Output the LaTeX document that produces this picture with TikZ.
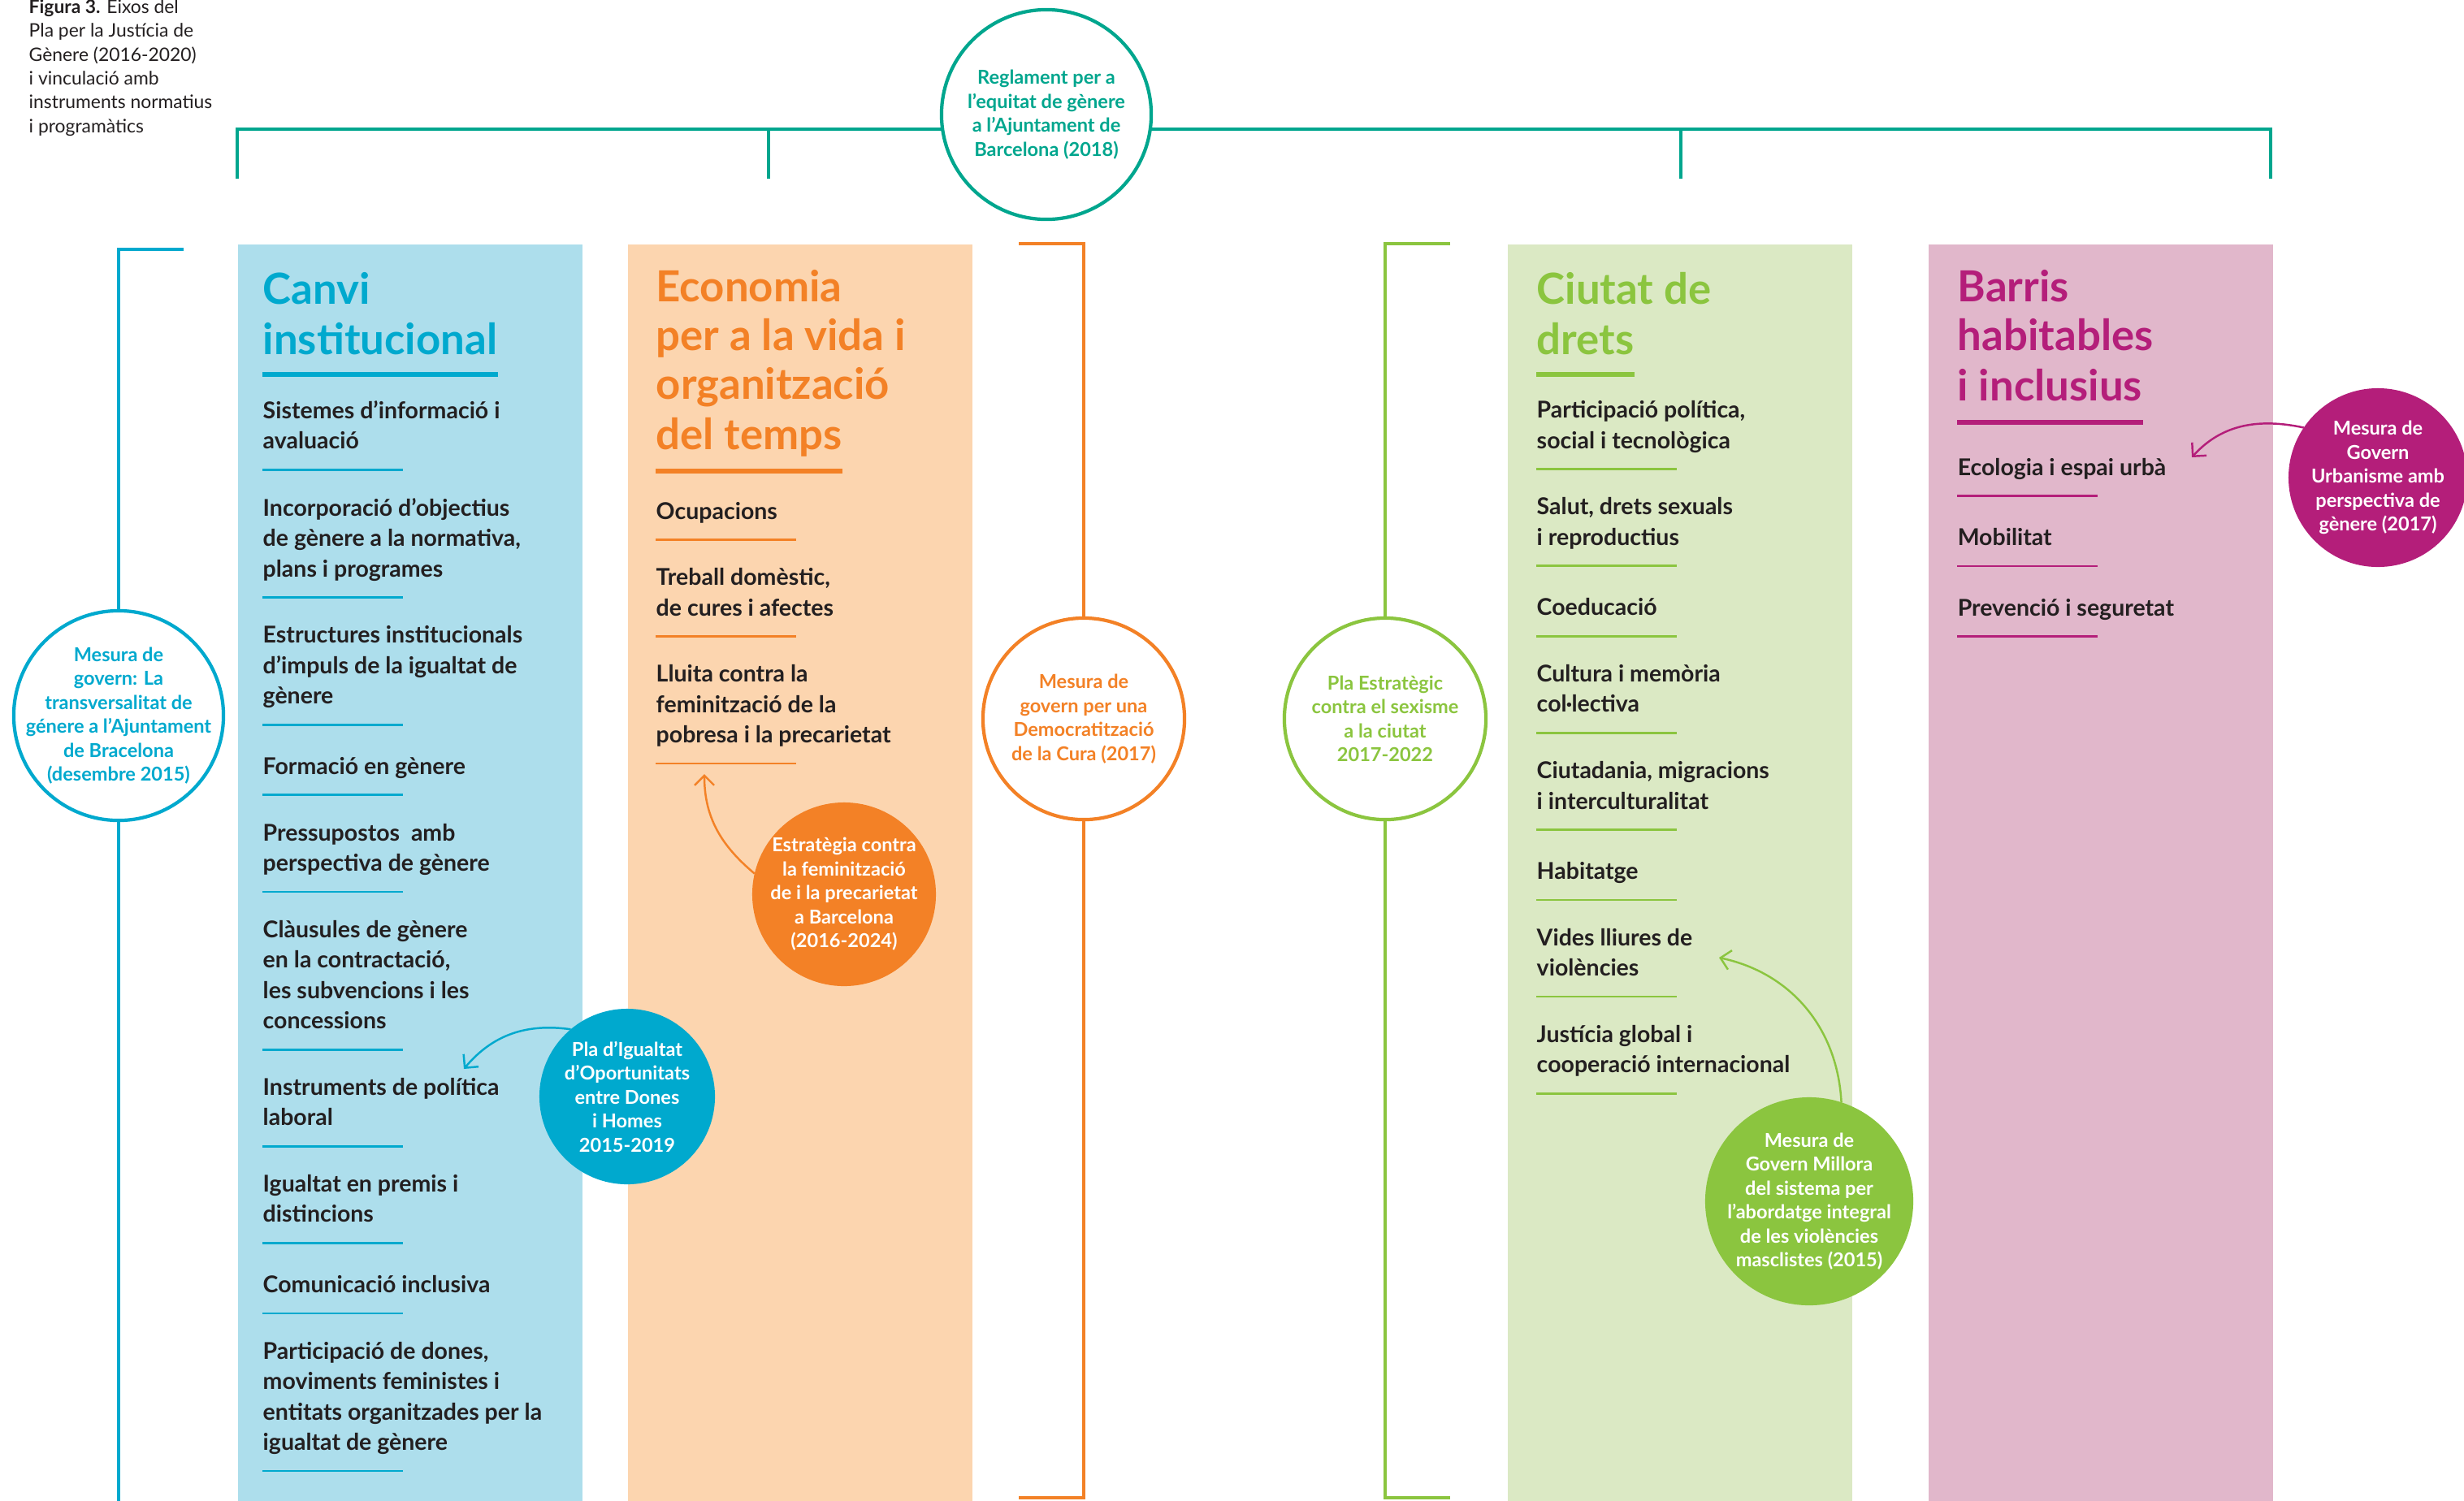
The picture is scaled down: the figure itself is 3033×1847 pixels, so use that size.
\documentclass[tikz,border=0pt]{standalone}
\usepackage{fontspec}
\setmainfont{Lato}
\usetikzlibrary{positioning,arrows.meta}

\definecolor{regc}{RGB}{0,166,142}
\definecolor{canc}{RGB}{0,169,206}
\definecolor{canl}{RGB}{173,222,236}
\definecolor{ecoc}{RGB}{243,129,38}
\definecolor{ecol}{RGB}{252,213,175}
\definecolor{dretc}{RGB}{139,197,63}
\definecolor{dretl}{RGB}{219,233,196}
\definecolor{barc}{RGB}{180,30,122}
\definecolor{barl}{RGB}{225,183,203}
\definecolor{ink}{RGB}{35,31,32}

\newcommand\capfont{\fontsize{6.5}{8.34}\selectfont}
\newcommand\headfont{\fontsize{15}{17.07}\selectfont\bfseries}
\newcommand\itemfont{\fontsize{8.1}{10.67}\selectfont\bfseries}
\newcommand\ringfont{\fontsize{6.7}{8.39}\selectfont\bfseries}

\tikzset{
  >={Straight Barb[length=1.2mm,width=2.4mm]},
  colbox/.style={anchor=north west, minimum width=4.24cm, minimum height=15.47cm, inner sep=0},
  head/.style={inner sep=0, align=left, font=\headfont, execute at begin node=\strut, execute at end node=\strut},
  item/.style={inner sep=0, align=left, font=\itemfont, text=ink, execute at begin node=\strut, execute at end node=\strut},
  caption/.style={anchor=north west, inner sep=0, align=left, font=\capfont, text=ink, execute at begin node=\strut, execute at end node=\strut},
  hbar/.style={line width=1.7pt},
  ibar/.style={line width=0.8pt},
  ring/.style={circle, draw, line width=1.2pt, fill=white, inner sep=-3mm, outer sep=0, align=center, font=\ringfont},
  disc/.style={circle, inner sep=-3mm, outer sep=0, align=center, font=\ringfont, text=white},
  bracket/.style={line width=0.9pt},
  pointer/.style={->, line width=0.7pt},
}

\begin{document}
\begin{tikzpicture}[x=0.01cm, y=-0.01cm]
  \useasboundingbox (0,0) rectangle (3033,1847);

  \node[caption] (fig) at (35,-1) {\textbf{Figura 3.} Eixos del\\Pla per la Justícia de\\Gènere (2016-2020)\\i vinculació amb\\instruments normatius\\i programàtics};

  \node[ring, draw=regc, text=regc, minimum size=2.58cm] (reg) at (1288,141) {Reglament per a\\l’equitat de gènere\\a l’Ajuntament de\\Barcelona (2018)};
  \coordinate (d1) at (292,220);
  \coordinate (d2) at (946,220);
  \coordinate (d3) at (2069,220);
  \coordinate (d4) at (2795,220);
  \draw[bracket, regc] (d1) |- (reg.188);
  \draw[bracket, regc] (reg.352) -| (d4);
  \draw[bracket, regc] (d2) -- (d2 |- reg.188);
  \draw[bracket, regc] (d3) -- (d3 |- reg.188);

  \node[colbox, fill=canl] (cb) at (292,300) {};
  \node[colbox, fill=ecol] (eb) at (772,300) {};
  \node[colbox, fill=dretl] (db) at (1855,300) {};
  \node[colbox, fill=barl] (bb) at (2373,300) {};

  \node[head, text=canc, below right=3.2mm and 3.1mm of cb.north west] (ch1) {Canvi};
  \node[head, text=canc, below right=0pt and 0pt of ch1.south west] (ch2) {institucional};
  \draw[hbar, canc] ([yshift=-0.6mm]ch2.south west) -- ([yshift=-0.6mm]ch2.south east);
  \node[item, below right=3.78mm and 0pt of ch2.south west] (ci1) {Sistemes d’informació i\\avaluació};
  \node[item, below right=4.77mm and 0pt of ci1.south west] (ci2) {Incorporació d’objectius\\de gènere a la normativa,\\plans i programes};
  \node[item, below right=4.77mm and 0pt of ci2.south west] (ci3) {Estructures institucionals\\d’impuls de la igualtat de\\gènere};
  \node[item, below right=4.77mm and 0pt of ci3.south west] (ci4) {Formació en gènere};
  \node[item, below right=4.77mm and 0pt of ci4.south west] (ci5) {Pressupostos\ \ amb\\perspectiva de gènere};
  \node[item, below right=4.77mm and 0pt of ci5.south west] (ci6) {Clàusules de gènere\\en la contractació,\\les subvencions i les\\concessions};
  \node[item, below right=4.77mm and 0pt of ci6.south west] (ci7) {Instruments de política\\laboral};
  \node[item, below right=4.77mm and 0pt of ci7.south west] (ci8) {Igualtat en premis i\\distincions};
  \node[item, below right=4.77mm and 0pt of ci8.south west] (ci9) {Comunicació inclusiva};
  \node[item, below right=4.77mm and 0pt of ci9.south west] (ci10) {Participació de dones,\\moviments feministes i\\entitats organitzades per la\\igualtat de gènere};
  \draw[ibar, canc] ([yshift=-1.33mm]ci1.south west) -- ++(173,0);
  \draw[ibar, canc] ([yshift=-1.33mm]ci2.south west) -- ++(173,0);
  \draw[ibar, canc] ([yshift=-1.33mm]ci3.south west) -- ++(173,0);
  \draw[ibar, canc] ([yshift=-1.33mm]ci4.south west) -- ++(173,0);
  \draw[ibar, canc] ([yshift=-1.33mm]ci5.south west) -- ++(173,0);
  \draw[ibar, canc] ([yshift=-1.33mm]ci6.south west) -- ++(173,0);
  \draw[ibar, canc] ([yshift=-1.33mm]ci7.south west) -- ++(173,0);
  \draw[ibar, canc] ([yshift=-1.33mm]ci8.south west) -- ++(173,0);
  \draw[ibar, canc] ([yshift=-1.33mm]ci9.south west) -- ++(173,0);
  \draw[ibar, canc] ([yshift=-1.33mm]ci10.south west) -- ++(173,0);

  \node[head, text=ecoc, below right=3.2mm and 3.5mm of eb.north west] (eh1) {Economia\\per a la vida i\\organització};
  \node[head, text=ecoc, below right=0pt and 0pt of eh1.south west] (eh2) {del temps};
  \draw[hbar, ecoc] ([yshift=-0.75mm]eh2.south west) -- ([yshift=-0.75mm]eh2.south east);
  \node[item, below right=4.0mm and 0pt of eh2.south west] (ei1) {Ocupacions};
  \node[item, below right=4.77mm and 0pt of ei1.south west] (ei2) {Treball domèstic,\\de cures i afectes};
  \node[item, below right=4.77mm and 0pt of ei2.south west] (ei3) {Lluita contra la\\feminització de la\\pobresa i la precarietat};
  \draw[ibar, ecoc] ([yshift=-1.33mm]ei1.south west) -- ++(173,0);
  \draw[ibar, ecoc] ([yshift=-1.33mm]ei2.south west) -- ++(173,0);
  \draw[ibar, ecoc] ([yshift=-1.33mm]ei3.south west) -- ++(173,0);

  \node[head, text=dretc, below right=3.2mm and 3.6mm of db.north west] (dh1) {Ciutat de};
  \node[head, text=dretc, below right=0pt and 0pt of dh1.south west] (dh2) {drets};
  \draw[hbar, dretc] ([yshift=-0.6mm]dh2.south west) -- ([yshift=-0.6mm]dh2.south east);
  \node[item, below right=3.78mm and 0pt of dh2.south west] (di1) {Participació política,\\social i tecnològica};
  \node[item, below right=4.77mm and 0pt of di1.south west] (di2) {Salut, drets sexuals\\i reproductius};
  \node[item, below right=4.77mm and 0pt of di2.south west] (di3) {Coeducació};
  \node[item, below right=4.77mm and 0pt of di3.south west] (di4) {Cultura i memòria\\col·lectiva};
  \node[item, below right=4.77mm and 0pt of di4.south west] (di5) {Ciutadania, migracions\\i interculturalitat};
  \node[item, below right=4.77mm and 0pt of di5.south west] (di6) {Habitatge};
  \node[item, below right=4.77mm and 0pt of di6.south west] (di7) {Vides lliures de\\violències};
  \node[item, below right=4.77mm and 0pt of di7.south west] (di8) {Justícia global i\\cooperació internacional};
  \draw[ibar, dretc] ([yshift=-1.33mm]di1.south west) -- ++(173,0);
  \draw[ibar, dretc] ([yshift=-1.33mm]di2.south west) -- ++(173,0);
  \draw[ibar, dretc] ([yshift=-1.33mm]di3.south west) -- ++(173,0);
  \draw[ibar, dretc] ([yshift=-1.33mm]di4.south west) -- ++(173,0);
  \draw[ibar, dretc] ([yshift=-1.33mm]di5.south west) -- ++(173,0);
  \draw[ibar, dretc] ([yshift=-1.33mm]di6.south west) -- ++(173,0);
  \draw[ibar, dretc] ([yshift=-1.33mm]di7.south west) -- ++(173,0);
  \draw[ibar, dretc] ([yshift=-1.33mm]di8.south west) -- ++(173,0);

  \node[head, text=barc, below right=3.2mm and 3.6mm of bb.north west] (bh1) {Barris\\habitables};
  \node[head, text=barc, below right=0pt and 0pt of bh1.south west] (bh2) {i inclusius};
  \draw[hbar, barc] ([yshift=-0.75mm]bh2.south west) -- ([yshift=-0.75mm]bh2.south east);
  \node[item, below right=4.6mm and 0pt of bh2.south west] (bi1) {Ecologia i espai urbà};
  \node[item, below right=4.77mm and 0pt of bi1.south west] (bi2) {Mobilitat};
  \node[item, below right=4.77mm and 0pt of bi2.south west] (bi3) {Prevenció i seguretat};
  \draw[ibar, barc] ([yshift=-1.33mm]bi1.south west) -- ++(173,0);
  \draw[ibar, barc] ([yshift=-1.33mm]bi2.south west) -- ++(173,0);
  \draw[ibar, barc] ([yshift=-1.33mm]bi3.south west) -- ++(173,0);

  \node[ring, draw=canc, text=canc, minimum size=2.58cm] (mg) at (146,881) {Mesura de\\govern: La\\transversalitat de\\génere a l’Ajuntament\\de Bracelona\\(desembre 2015)};
  \coordinate (mgt) at (226,307);
  \coordinate (mgb) at (146,1850);
  \draw[bracket, canc] (mgt) -| (mg.north);
  \draw[bracket, canc] (mg.south) -- (mgb);

  \node[ring, draw=ecoc, text=ecoc, minimum size=2.48cm] (mc) at (1334,885) {Mesura de\\govern per una\\Democratització\\de la Cura (2017)};
  \coordinate (mct) at (1254,300);
  \coordinate (mcb) at (1254,1844);
  \draw[bracket, ecoc] (mct) -| (mc.north);
  \draw[bracket, ecoc] (mc.south) |- (mcb);

  \node[ring, draw=dretc, text=dretc, minimum size=2.48cm] (pe) at (1705,885) {Pla Estratègic\\contra el sexisme\\a la ciutat\\2017-2022};
  \coordinate (pet) at (1785,300);
  \coordinate (peb) at (1785,1844);
  \draw[bracket, dretc] (pet) -| (pe.north);
  \draw[bracket, dretc] (pe.south) |- (peb);

  \node[disc, fill=canc, minimum size=2.16cm] (pio) at (772,1350) {Pla d’Igualtat\\d’Oportunitats\\entre Dones\\i Homes\\2015-2019};
  \node[disc, fill=ecoc, minimum size=2.26cm] (efp) at (1039,1101) {Estratègia contra\\la feminització\\de i la precarietat\\a Barcelona\\(2016-2024)};
  \node[disc, fill=dretc, minimum size=2.56cm] (mvm) at (2227,1479) {Mesura de\\Govern Millora\\del sistema per\\l’abordatge integral\\de les violències\\masclistes (2015)};
  \node[disc, fill=barc, minimum size=2.2cm] (mub) at (2927,588) {Mesura de\\Govern\\Urbanisme amb\\perspectiva de\\gènere (2017)};

  \coordinate (tpio) at (571,1316);
  \coordinate (tefp) at (867,953);
  \coordinate (tmvm) at (2116,1179);
  \coordinate (tmub) at (2698,563);
  \draw[pointer, canc] (pio.130) to[out=172, in=50] (tpio);
  \draw[pointer, ecoc] (efp.167) to[out=140, in=270] (tefp);
  \draw[pointer, dretc] (mvm.72) to[out=93, in=-12] (tmvm);
  \draw[pointer, barc] (mub.146) to[out=168, in=48] (tmub);
\end{tikzpicture}
\end{document}
